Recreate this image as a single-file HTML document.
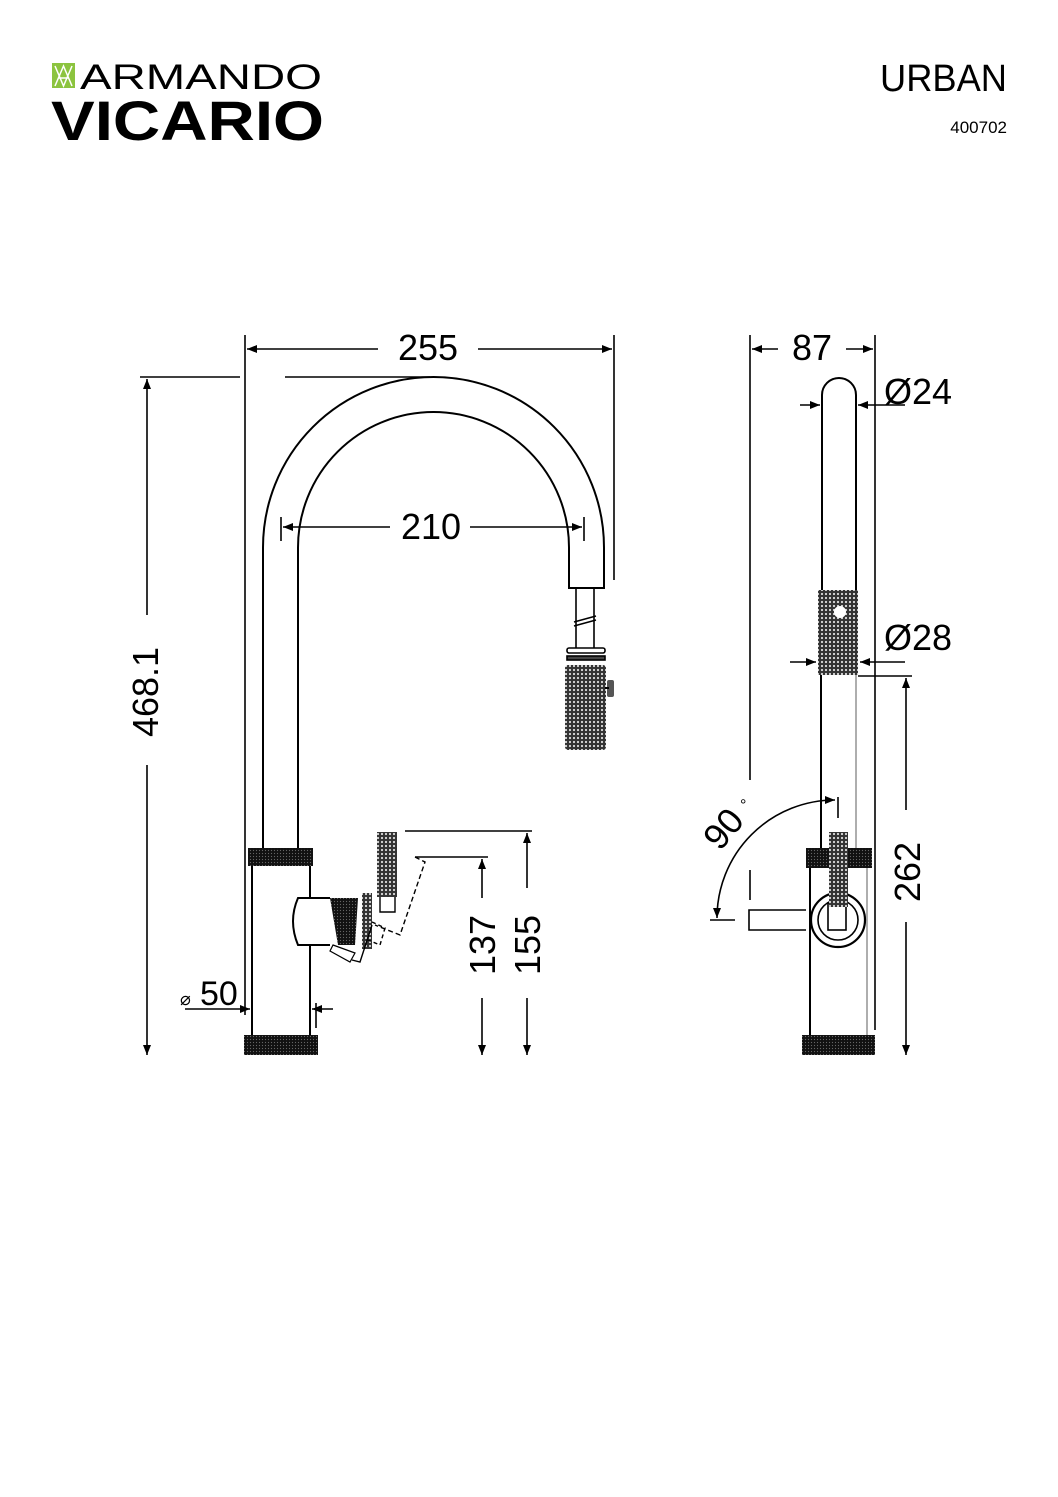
<!DOCTYPE html>
<html><head><meta charset="utf-8"><style>
html,body{margin:0;padding:0;background:#fff;}
svg{display:block;}
text{font-family:"Liberation Sans",sans-serif;fill:#000;}
</style></head><body>
<svg width="1058" height="1497" viewBox="0 0 1058 1497" xmlns="http://www.w3.org/2000/svg">
<defs>
<pattern id="kn" width="4" height="4" patternUnits="userSpaceOnUse">
<rect width="4" height="4" fill="#333"/>
<circle cx="2" cy="2" r="1.1" fill="#ddd"/>
</pattern>
<pattern id="kd" width="3" height="3" patternUnits="userSpaceOnUse">
<rect width="3" height="3" fill="#111"/>
<circle cx="1.5" cy="1.5" r="0.6" fill="#666"/>
</pattern>
<marker id="a" viewBox="0 0 10 10" refX="10" refY="5" markerWidth="20" markerHeight="10" markerUnits="userSpaceOnUse" orient="auto-start-reverse"><path d="M0,1 L10,5 L0,9z" fill="#000"/></marker>
</defs>

<!-- Logo -->
<rect x="52" y="63" width="23" height="25" fill="#8cc43f"/>
<path d="M55,66 L63.5,86 L72,66 M55,86 L63.5,66 L72,86 M58,78 H69" stroke="#fff" stroke-width="1.5" fill="none"/>
<text x="80" y="89" font-size="35" textLength="242" lengthAdjust="spacingAndGlyphs">ARMANDO</text>
<text x="51" y="140" font-size="56" font-weight="bold" textLength="273" lengthAdjust="spacingAndGlyphs">VICARIO</text>
<text x="1007" y="91" font-size="38" text-anchor="end" textLength="127" lengthAdjust="spacingAndGlyphs">URBAN</text>
<text x="1007" y="133" font-size="17" text-anchor="end">400702</text>

<g stroke="#000" stroke-width="1.6" fill="none">
<line x1="245" y1="335" x2="245" y2="1015"/>
<line x1="614" y1="335" x2="614" y2="580"/>
<line x1="247" y1="349" x2="378" y2="349" marker-start="url(#a)"/>
<line x1="478" y1="349" x2="612" y2="349" marker-end="url(#a)"/>
<line x1="140" y1="377" x2="240" y2="377"/>
<line x1="285" y1="377" x2="430" y2="377"/>
<line x1="147" y1="379" x2="147" y2="615" marker-start="url(#a)"/>
<line x1="147" y1="765" x2="147" y2="1055" marker-end="url(#a)"/>
<path d="M263,848 V547.5 A170.5,170.5 0 0 1 604,547.5 V588 H569 V547.5 A135.5,135.5 0 0 0 298,547.5 V848" stroke-width="2"/>
<line x1="281" y1="517" x2="281" y2="541"/>
<line x1="584" y1="517" x2="584" y2="541"/>
<line x1="283" y1="527" x2="390" y2="527" marker-start="url(#a)"/>
<line x1="470" y1="527" x2="582" y2="527" marker-end="url(#a)"/>
<line x1="576" y1="588" x2="576" y2="648"/>
<line x1="594" y1="588" x2="594" y2="648"/>
<line x1="574" y1="622" x2="596" y2="616"/>
<line x1="574" y1="626" x2="596" y2="620"/>
<rect x="567" y="648" width="38" height="5" rx="2" fill="#fff"/>
<rect x="567" y="656" width="38" height="4" fill="#444"/>
</g>
<rect x="565" y="665" width="41" height="85" rx="3" fill="url(#kn)"/>
<rect x="607" y="680" width="7" height="17" rx="2" fill="#555"/>
<line x1="605" y1="688" x2="609" y2="688" stroke="#000" stroke-width="2"/>

<g stroke="#000" stroke-width="2" fill="none">
<line x1="252" y1="866" x2="252" y2="1035"/>
<path d="M310,866 V898 H298 Q288,921 298,945 H310 V1035"/>
<path d="M298,898 H330 M298,945 H330"/>
</g>
<rect x="248" y="848" width="65" height="18" fill="url(#kd)"/>
<rect x="244" y="1035" width="74" height="20" fill="url(#kd)"/>
<path d="M330,898 H358 L355,945 H338 Z" fill="url(#kd)"/>
<rect x="362" y="893" width="10" height="56" fill="url(#kn)"/>
<rect x="377" y="832" width="20" height="65" fill="url(#kn)"/>
<g stroke="#000" stroke-width="1.4" fill="none">
<path d="M380,897 V912 H395 V897"/>
<path d="M333,945 L355,953 L350,962 L330,951 Z" stroke-width="1.2"/>
<path d="M352,960 L360,962 L372,925" />
<path d="M415,857 L425,862 L400,935 L375,925" stroke-dasharray="5,3"/>
<path d="M372,922 L385,928 L380,945 L368,940" stroke-dasharray="4,3"/>
</g>
<g stroke="#000" stroke-width="1.6" fill="none">
<line x1="415" y1="857" x2="488" y2="857"/>
<line x1="405" y1="831" x2="532" y2="831"/>
<line x1="482" y1="859" x2="482" y2="898" marker-start="url(#a)"/>
<line x1="482" y1="998" x2="482" y2="1055" marker-end="url(#a)"/>
<line x1="527" y1="833" x2="527" y2="888" marker-start="url(#a)"/>
<line x1="527" y1="998" x2="527" y2="1055" marker-end="url(#a)"/>
<line x1="185" y1="1009" x2="250" y2="1009" marker-end="url(#a)"/>
<line x1="333" y1="1009" x2="312" y2="1009" marker-end="url(#a)"/>
<line x1="316" y1="1003" x2="316" y2="1028"/>
</g>

<text x="428" y="360" font-size="36" text-anchor="middle">255</text>
<text x="431" y="539" font-size="36" text-anchor="middle">210</text>
<text transform="translate(158,692) rotate(-90)" font-size="36" text-anchor="middle">468.1</text>
<text transform="translate(495,945) rotate(-90)" font-size="36" text-anchor="middle">137</text>
<text transform="translate(540,945) rotate(-90)" font-size="36" text-anchor="middle">155</text>
<text x="180" y="1005" font-size="18">⌀</text>
<text x="200" y="1005" font-size="34">50</text>

<g stroke="#000" stroke-width="1.6" fill="none">
<line x1="750" y1="335" x2="750" y2="780"/>
<line x1="750" y1="870" x2="750" y2="900"/>
<line x1="875" y1="335" x2="875" y2="1030"/>
<line x1="752" y1="349" x2="778" y2="349" marker-start="url(#a)"/>
<line x1="846" y1="349" x2="873" y2="349" marker-end="url(#a)"/>
<path d="M822,590 V395 A17,17 0 0 1 856,395 V590" stroke-width="2"/>
<line x1="800" y1="405" x2="820" y2="405" marker-end="url(#a)"/>
<line x1="905" y1="405" x2="858" y2="405" marker-end="url(#a)"/>
<line x1="790" y1="662" x2="816" y2="662" marker-end="url(#a)"/>
<line x1="905" y1="662" x2="860" y2="662" marker-end="url(#a)"/>
<line x1="821" y1="675" x2="821" y2="848" stroke-width="2"/>
<line x1="856" y1="675" x2="856" y2="848" stroke="#999"/>
<line x1="858" y1="676" x2="912" y2="676"/>
<line x1="906" y1="678" x2="906" y2="810" marker-start="url(#a)"/>
<line x1="906" y1="922" x2="906" y2="1055" marker-end="url(#a)"/>
<line x1="810" y1="868" x2="810" y2="1035" stroke-width="2"/>
<line x1="867" y1="868" x2="867" y2="1035" stroke="#999"/>
<path d="M806,910 H749 V930 H806"/>
<circle cx="838" cy="920" r="27" stroke-width="2.2"/>
<circle cx="838" cy="920" r="20" stroke-width="1.6"/>
<rect x="828" y="903" width="18" height="27" stroke-width="1.6"/>
<path d="M835,800 A118,118 0 0 0 717,918" marker-start="url(#a)" marker-end="url(#a)"/>
<line x1="838" y1="797" x2="838" y2="818"/>
<line x1="710" y1="920" x2="735" y2="920"/>
</g>
<rect x="818" y="590" width="40" height="85" fill="url(#kn)"/>
<circle cx="840" cy="612" r="6" fill="#fff"/>
<rect x="806" y="848" width="66" height="20" fill="url(#kd)"/>
<rect x="829" y="832" width="19" height="75" fill="url(#kn)"/>
<rect x="802" y="1035" width="73" height="20" fill="url(#kd)"/>
<text x="812" y="360" font-size="36" text-anchor="middle">87</text>
<text x="884" y="404" font-size="36">Ø24</text>
<text x="884" y="650" font-size="36">Ø28</text>
<text transform="translate(920,872) rotate(-90)" font-size="36" text-anchor="middle">262</text>
<text transform="translate(720,852) rotate(-50)" font-size="36">90</text>
<text transform="translate(740,810)" font-size="16">°</text>
</svg>
</body></html>
